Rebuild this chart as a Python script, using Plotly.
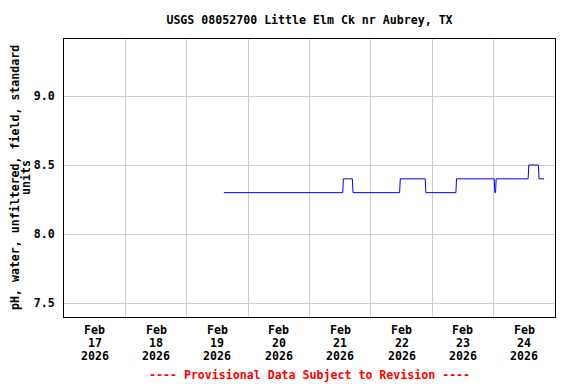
import plotly.graph_objects as go

# pH readings (change points of the step record)
times = [
    "2026-02-19 14:30", "2026-02-21 13:00", "2026-02-21 13:15", "2026-02-21 16:45",
    "2026-02-21 17:00", "2026-02-22 11:15", "2026-02-22 11:30", "2026-02-22 21:15",
    "2026-02-22 21:30", "2026-02-23 09:15", "2026-02-23 09:30", "2026-02-24 00:15",
    "2026-02-24 00:30", "2026-02-24 00:45", "2026-02-24 01:00", "2026-02-24 13:30",
    "2026-02-24 13:45", "2026-02-24 17:30", "2026-02-24 17:45", "2026-02-24 19:45",
]
ph = [
    8.3, 8.3, 8.4, 8.4,
    8.3, 8.3, 8.4, 8.4,
    8.3, 8.3, 8.4, 8.4,
    8.3, 8.3, 8.4, 8.4,
    8.5, 8.5, 8.4, 8.4,
]

grid_days = ["2026-02-17", "2026-02-18", "2026-02-19", "2026-02-20", "2026-02-21",
             "2026-02-22", "2026-02-23", "2026-02-24", "2026-02-25"]
label_pos = ["2026-02-17 12:00", "2026-02-18 12:00", "2026-02-19 12:00", "2026-02-20 12:00",
             "2026-02-21 12:00", "2026-02-22 12:00", "2026-02-23 12:00", "2026-02-24 12:00"]
label_month = ["Feb"] * 8
label_day = ["17", "18", "19", "20", "21", "22", "23", "24"]
label_year = ["2026"] * 8
y_ticks = [7.5, 8.0, 8.5, 9.0]
y_ticktext = ["7.5", "8.0", "8.5", "9.0"]

FONT = "DejaVu Sans Mono"
FS = 11.6
OFF = 8  # page body margin

fig = go.Figure()
fig.add_trace(go.Scatter(x=times, y=ph, mode="lines",
                         line=dict(color="#0000ff", width=1), showlegend=False,
                         hoverinfo="x+y"))

fig.update_layout(
    width=576 - OFF, height=384 - OFF,
    margin=dict(l=64 - OFF, r=21, t=39 - OFF, b=67, autoexpand=False),
    paper_bgcolor="white", plot_bgcolor="white",
    font=dict(family=FONT, size=FS, color="black", weight="bold"),
    title=dict(text="USGS 08052700 Little Elm Ck nr Aubrey, TX",
               x=((64 + 555) / 2 - OFF) / (576 - OFF), xanchor="center",
               y=1 - (20 - OFF) / (384 - OFF), yanchor="middle",
               font=dict(family=FONT, size=FS, color="black", weight="bold")),
    xaxis=dict(type="date", range=[grid_days[0], grid_days[-1]],
               tickvals=grid_days, showticklabels=False,
               showgrid=True, gridcolor="#cccccc", gridwidth=1,
               showline=True, linecolor="black", linewidth=1, mirror=True,
               ticks="", zeroline=False),
    yaxis=dict(range=[7.399, 9.413], tickvals=y_ticks, ticktext=y_ticktext,
               showgrid=True, gridcolor="#cccccc", gridwidth=1,
               showline=True, linecolor="black", linewidth=1, mirror=True,
               ticks="outside", ticklen=6, tickcolor="rgba(0,0,0,0)",
               tickfont=dict(family=FONT, size=FS, color="black", weight="bold"),
               zeroline=False),
)

ann = []
for xp, m, d, yr in zip(label_pos, label_month, label_day, label_year):
    for txt, ypx in ((m, 330), (d, 343), (yr, 356)):
        ann.append(dict(x=xp, y=(317 - ypx) / 278, xref="x", yref="paper",
                        text=txt, showarrow=False, xanchor="center", yanchor="middle",
                        font=dict(family=FONT, size=FS, color="black", weight="bold")))
ann.append(dict(x=(15 - 64) / 491, y=0.5, xref="paper", yref="paper",
                text="pH, water, unfiltered, field, standard", textangle=-90,
                showarrow=False, xanchor="center", yanchor="middle",
                font=dict(family=FONT, size=FS, color="black", weight="bold")))
ann.append(dict(x=(26 - 64) / 491, y=0.5, xref="paper", yref="paper",
                text="units", textangle=-90,
                showarrow=False, xanchor="center", yanchor="middle",
                font=dict(family=FONT, size=FS, color="black", weight="bold")))
ann.append(dict(x=(309.5 - 64) / 491, y=(317 - 375) / 278, xref="paper", yref="paper",
                text="---- Provisional Data Subject to Revision ----",
                showarrow=False, xanchor="center", yanchor="middle",
                font=dict(family=FONT, size=FS, color="red", weight="bold")))
fig.update_layout(annotations=ann)

fig.write_html("out.html")
